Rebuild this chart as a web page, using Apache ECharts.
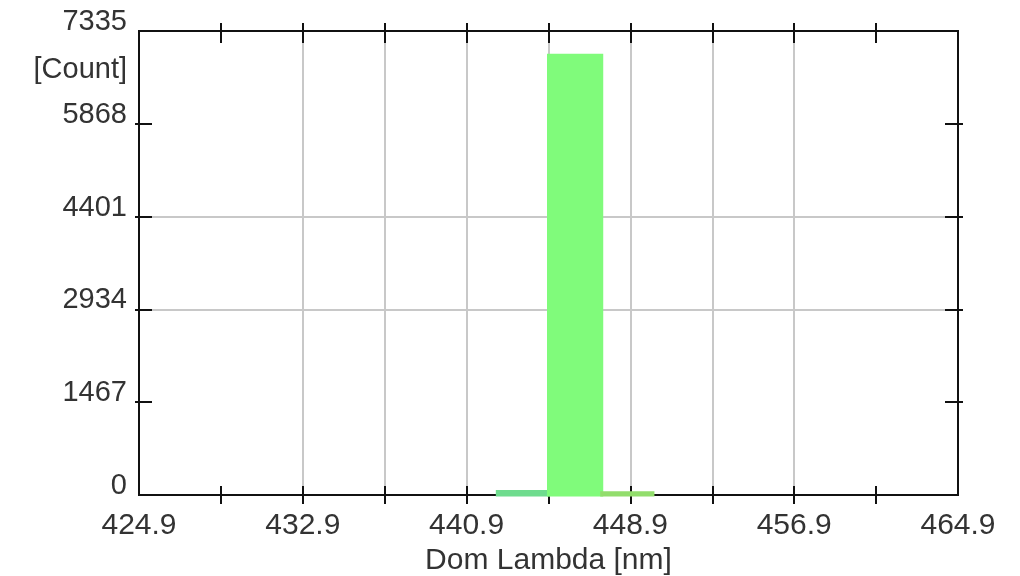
<!DOCTYPE html>
<html>
<head>
<meta charset="utf-8">
<script src="https://cdn.jsdelivr.net/npm/echarts@6/dist/echarts.min.js"></script>
<style>
  html, body { margin: 0; padding: 0; background: #fff; }
  #main { width: 1020px; height: 576px; }
</style>
</head>
<body>
<div id="main"></div>
<script>
// histogram bins (nm) and counts
var binLow = [442.4, 444.9, 447.5];
var binHigh = [444.9, 447.5, 450.0];
var counts = [55, 6950, 35];
var barColors = ['#6fdc8e', '#80fb7b', '#92dd6c'];

// axis extents / ticks
var xStart = 424.9;
var xSpan = 40;
var xStep = 4;
var yMax = 7335;
var yStep = 1467;

var FONT = 'Liberation Sans, Arial, sans-serif';
var dark = '#111';

var seriesData = [];
for (var i = 0; i < counts.length; i++) {
    seriesData.push([binLow[i] - xStart, binHigh[i] - xStart, counts[i]]);
}

// tick marks only between the corners
var xTicks = [], yTicks = [];
for (var t = xStep; t < xSpan; t += xStep) xTicks.push(t);
for (var t = yStep; t < yMax; t += yStep) yTicks.push(t);

// one axis per side and tick direction, so ticks cross the frame
function xAx(pos, inside, len, main) {
    var labelled = main && pos === 'bottom';
    return {
        type: 'value', position: pos, min: 0, max: xSpan, interval: xStep,
        axisLine: {show: true, onZero: false, lineStyle: {color: dark, width: 2}},
        axisTick: {show: true, inside: inside, length: len, customValues: xTicks,
            lineStyle: {color: dark, width: 2}},
        axisLabel: {
            show: labelled,
            fontSize: 30, fontFamily: FONT, color: '#333', margin: 16,
            formatter: function (v) {
                return v % 8 === 0 ? (xStart + v).toFixed(1) : '';
            }
        },
        splitLine: {show: labelled, showMinLine: false, showMaxLine: false,
            lineStyle: {color: '#c8c8c8', width: 2}},
        name: labelled ? 'Dom Lambda [nm]' : '',
        nameLocation: 'middle', nameGap: 51,
        nameTextStyle: {fontSize: 30, fontFamily: FONT, color: '#333'}
    };
}

function yAx(pos, inside, len, main) {
    var labelled = main && pos === 'left';
    return {
        type: 'value', position: pos, min: 0, max: yMax, interval: yStep,
        axisLine: {show: true, onZero: false, lineStyle: {color: dark, width: 2}},
        axisTick: {show: true, inside: inside, length: len, customValues: yTicks,
            lineStyle: {color: dark, width: 2}},
        axisLabel: {
            show: labelled,
            fontSize: 29, fontFamily: FONT, color: '#333', margin: 12,
            verticalAlign: 'bottom', lineHeight: 18,
            formatter: function (v) { return String(v); }
        },
        splitLine: {show: labelled, showMinLine: false, showMaxLine: false,
            lineStyle: {color: '#c8c8c8', width: 2}},
        name: labelled ? '[Count]' : '',
        nameLocation: 'end', nameGap: -39,
        nameTextStyle: {fontSize: 29, fontFamily: FONT, color: '#333',
            align: 'right', verticalAlign: 'middle', padding: [0, 12, 0, 0]}
    };
}

var myChart = echarts.init(document.getElementById('main'));
var option = {
    animation: false,
    grid: {left: 139, right: 62, top: 31, bottom: 81, show: true,
        outerBoundsMode: 'none', containLabel: false,
        borderColor: dark, borderWidth: 2, backgroundColor: '#fff'},
    xAxis: [
        xAx('bottom', false, 9, true),
        xAx('bottom', true, 9, false),
        xAx('top', false, 8, true),
        xAx('top', true, 12, false)
    ],
    yAxis: [
        yAx('left', false, 4, true),
        yAx('left', true, 13, false),
        yAx('right', false, 5, true),
        yAx('right', true, 13, false)
    ],
    series: [{
        type: 'custom',
        xAxisIndex: 0,
        yAxisIndex: 0,
        z: 10,
        data: seriesData,
        renderItem: function (params, api) {
            var p0 = api.coord([api.value(0), api.value(2)]);
            var p1 = api.coord([api.value(1), 0]);
            var c = barColors[params.dataIndex];
            return {
                type: 'rect',
                shape: {x: p0[0], y: p0[1], width: p1[0] - p0[0], height: p1[1] - p0[1]},
                style: {fill: c, stroke: c, lineWidth: 3}
            };
        }
    }]
};
myChart.setOption(option);
</script>
</body>
</html>
